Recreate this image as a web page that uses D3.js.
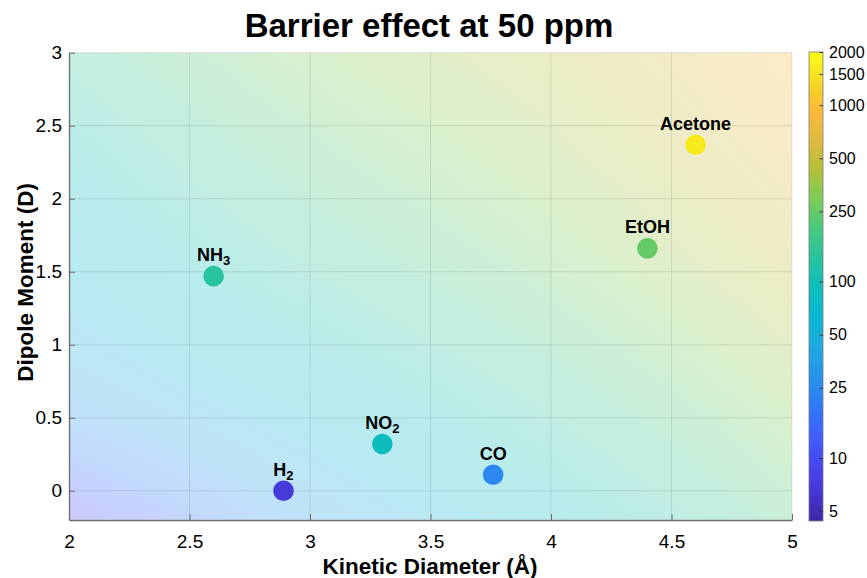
<!DOCTYPE html>
<html>
<head>
<meta charset="utf-8">
<script src="https://cdn.jsdelivr.net/npm/d3@7"></script>
<style>
  body { margin: 0; background: #fff; }
  text { font-family: "Liberation Sans", Arial, Helvetica, sans-serif; fill: #000; }
</style>
</head>
<body>
<svg id="chart" width="867" height="578"></svg>
<script>
// ---- data ----
const gasLabels = ["H_2", "NH_3", "NO_2", "CO", "EtOH", "Acetone"];
const kineticDiameter = [2.89, 2.60, 3.30, 3.76, 4.40, 4.60];   // Å
const dipoleMoment    = [0.00, 1.47, 0.32, 0.11, 1.66, 2.37];   // D
const response        = [7, 135, 90, 24, 250, 1650];            // colour value

// smoothed response surface (ppm-scale levels on a coarse grid, rows bottom -> top)
const surfX = [2, 2.75, 3.5, 4.25, 5];
const surfY = [-0.2, 0.6, 1.4, 2.2, 3];
const surfLevels = [
  [8.5,  27,    56,  98, 207],
  [38,   62,    98, 183, 320],
  [58,   112,  183, 283, 465],
  [90,   183,  266, 386, 634],
  [153,  266,  363, 494, 864]
];

const xTicks = [2, 2.5, 3, 3.5, 4, 4.5, 5];
const yTicks = [0, 0.5, 1, 1.5, 2, 2.5, 3];
const cbTicks = [5, 10, 25, 50, 100, 250, 500, 1000, 1500, 2000];

// parula colormap anchors
const parulaStops = ["#3e26a8","#4636d3","#4748f0","#3f62fc","#2f7cf6","#2796ea","#1caadf",
  "#0bb6d0","#0ebdbc","#2ac39f","#48c87e","#7ecb56","#b5c13a","#e0b941","#fdb93a","#f4d925","#f9fb15"];
const parula = d3.scaleLinear()
  .domain(parulaStops.map((_, i) => i / (parulaStops.length - 1)))
  .range(parulaStops)
  .interpolate(d3.interpolateRgb)
  .clamp(true);

// ---- layout ----
const svg = d3.select("#chart");
const plot = { left: 69, right: 792, top: 52.7, bottom: 520 };
const x = d3.scaleLinear().domain([2, 5]).range([plot.left, plot.right]);
const y = d3.scaleLinear().domain([-0.2, 3]).range([plot.bottom, plot.top]);
const cLim = [4.4, 2000];
const cFrac = d3.scaleLog().domain(cLim).range([0, 1]).clamp(true);
const color = v => parula(cFrac(v));

// ---- background surface ----
const W = Math.round(plot.right - plot.left), H = Math.round(plot.bottom - plot.top);
const canvas = document.createElement("canvas");
canvas.width = W; canvas.height = H;
const ctx = canvas.getContext("2d");
const img = ctx.createImageData(W, H);
const logRows = surfLevels.map(r => r.map(Math.log));
const rowInterp = logRows.map(r => d3.interpolateBasis(r));
for (let i = 0; i < W; i++) {
  const xv = x.invert(plot.left + i + 0.5);
  const t = (xv - surfX[0]) / (surfX[surfX.length - 1] - surfX[0]);
  const col = d3.interpolateBasis(rowInterp.map(f => f(t)));
  for (let j = 0; j < H; j++) {
    const yv = y.invert(plot.top + j + 0.5);
    const s = (yv - surfY[0]) / (surfY[surfY.length - 1] - surfY[0]);
    const c = d3.rgb(color(Math.exp(col(s))));
    const k = (j * W + i) * 4;
    img.data[k] = c.r; img.data[k + 1] = c.g; img.data[k + 2] = c.b; img.data[k + 3] = 74;
  }
}
ctx.putImageData(img, 0, 0);
svg.append("image")
  .attr("x", plot.left).attr("y", plot.top)
  .attr("width", W).attr("height", H)
  .attr("preserveAspectRatio", "none")
  .attr("href", canvas.toDataURL());

// ---- grid ----
const grid = svg.append("g").attr("stroke", "#263238").attr("stroke-opacity", 0.12).attr("stroke-width", 1);
grid.selectAll(".gx").data(xTicks.slice(1)).join("line")
  .attr("x1", d => x(d)).attr("x2", d => x(d)).attr("y1", plot.top).attr("y2", plot.bottom);
grid.selectAll(".gy").data(yTicks).join("line")
  .attr("y1", d => y(d)).attr("y2", d => y(d)).attr("x1", plot.left).attr("x2", plot.right);

// ---- axes ----
const xAxis = svg.append("g").attr("transform", `translate(0,${plot.bottom})`)
  .call(d3.axisBottom(x).tickValues(xTicks).tickFormat(d3.format("")).tickSizeInner(-6).tickSizeOuter(0).tickPadding(15));
const yAxis = svg.append("g").attr("transform", `translate(${plot.left},0)`)
  .call(d3.axisLeft(y).tickValues(yTicks).tickFormat(d3.format("")).tickSizeInner(-6).tickSizeOuter(0).tickPadding(7));
[xAxis, yAxis].forEach(a => {
  a.select(".domain").attr("stroke", "#6b6b6b").attr("stroke-width", 1.3);
  a.selectAll(".tick line").attr("stroke", "#6b6b6b");
  a.selectAll(".tick text").attr("font-size", 19).attr("fill", "#262626")
    .style("font-family", '"Liberation Sans", Arial, sans-serif');
});

// ---- points ----
svg.append("g").selectAll("circle").data(gasLabels).join("circle")
  .attr("cx", (d, i) => x(kineticDiameter[i]))
  .attr("cy", (d, i) => y(dipoleMoment[i]))
  .attr("r", 10.3)
  .attr("fill", (d, i) => color(response[i]));

// ---- point labels (TeX-style subscripts) ----
const labels = svg.append("g").selectAll("text").data(gasLabels).join("text")
  .attr("x", (d, i) => x(kineticDiameter[i]))
  .attr("y", (d, i) => y(dipoleMoment[i]) - 15)
  .attr("text-anchor", "middle")
  .attr("font-size", 18).attr("font-weight", "bold");
labels.each(function(d) {
  const [base, sub] = d.split("_");
  const t = d3.select(this);
  t.append("tspan").text(base);
  if (sub) t.append("tspan").attr("font-size", 13).attr("dy", 4).text(sub);
});

// ---- colorbar ----
const cb = { x: 809, w: 14, top: 52, bottom: 521 };
const cbY = d3.scaleLog().domain(cLim).range([cb.bottom, cb.top]);
const grad = svg.append("defs").append("linearGradient")
  .attr("id", "cbGrad").attr("x1", 0).attr("y1", 1).attr("x2", 0).attr("y2", 0);
d3.range(0, 1.0001, 1 / 64).forEach(f => {
  grad.append("stop").attr("offset", f).attr("stop-color", parula(f));
});
svg.append("rect").attr("x", cb.x).attr("y", cb.top).attr("width", cb.w).attr("height", cb.bottom - cb.top)
  .attr("fill", "url(#cbGrad)").attr("stroke", "#7a7a7a").attr("stroke-width", 0.8);
const cbAxis = svg.append("g").attr("transform", `translate(${cb.x + cb.w},0)`)
  .call(d3.axisRight(cbY).tickValues(cbTicks).tickFormat(d3.format("d")).tickSizeInner(-3.5).tickSizeOuter(0).tickPadding(6));
cbAxis.select(".domain").remove();
cbAxis.selectAll(".tick line").attr("stroke", "#333");
cbAxis.selectAll(".tick text").attr("font-size", 16).attr("fill", "#262626")
  .style("font-family", '"Liberation Sans", Arial, sans-serif');

// ---- titles ----
svg.append("text").attr("x", 429).attr("y", 37).attr("text-anchor", "middle")
  .attr("font-size", 33).attr("font-weight", "bold").text("Barrier effect at 50 ppm");
svg.append("text").attr("x", 430).attr("y", 574).attr("text-anchor", "middle")
  .attr("font-size", 22.5).attr("font-weight", "bold").text("Kinetic Diameter (Å)");
svg.append("text").attr("transform", `translate(33,${(plot.top + plot.bottom) / 2 - 4}) rotate(-90)`)
  .attr("text-anchor", "middle")
  .attr("font-size", 22.5).attr("font-weight", "bold").text("Dipole Moment (D)");
</script>
</body>
</html>
